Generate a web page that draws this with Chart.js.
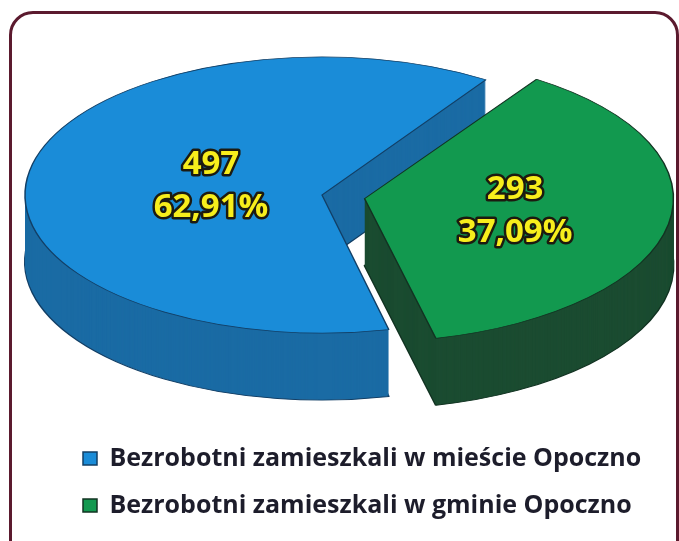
<!DOCTYPE html>
<html>
<head>
<meta charset="utf-8">
<script src="https://cdn.jsdelivr.net/npm/chart.js@4.4.1/dist/chart.umd.min.js"></script>
<style>
html, body { margin: 0; padding: 0; background: #fff; }
#wrap { position: relative; width: 679px; height: 541px; overflow: hidden; }
#frame { position: absolute; left: 9px; top: 11px; width: 664px; height: 580px; border: 3px solid #5b1a2e; border-radius: 24px; }
canvas { position: absolute; left: 0; top: 0; }
</style>
</head>
<body>
<div id="wrap">
  <div id="frame"></div>
  <canvas id="pie" width="679" height="541"></canvas>
</div>
<script>
const labels = ['Bezrobotni zamieszkali w mieście Opoczno', 'Bezrobotni zamieszkali w gminie Opoczno'];
const counts = [497, 293];

const topColors = ['#1a8cd8', '#12994f'];
const sideColors = ['#1a6ba4', '#1b4c31'];
const edgeColors = ['#123f66', '#123322'];

const total = counts.reduce((a, b) => a + b, 0);
const percentText = v => (v / total * 100).toFixed(2).replace('.', ',') + '%';

// fake 3D: squash the pie vertically and stack darker copies under it
const tiltPlugin = {
    id: 'tilt',
    beforeDatasetsDraw(chart, args, opts) {
        const ctx = chart.ctx;
        const meta = chart.getDatasetMeta(0);
        const area = chart.chartArea;
        const cx = (area.left + area.right) / 2;
        const cy = (area.top + area.bottom) / 2;
        const squash = () => {
            ctx.translate(opts.centerX - cx, opts.centerY);
            ctx.scale(1, opts.tilt);
            ctx.translate(0, -cy);
        };
        for (let d = opts.depth; d >= 1; d--) {
            ctx.save();
            ctx.translate(0, d);
            squash();
            meta.data.forEach((arc, i) => {
                const saved = arc.options;
                arc.options = Object.assign({}, saved, {
                    backgroundColor: opts.sideColors[i],
                    borderColor: edgeColors[i],
                    borderWidth: d === opts.depth ? 2 : 0
                });
                arc.draw(ctx);
                arc.options = saved;
            });
            ctx.restore();
        }
        ctx.save();
        squash();
    },
    afterDatasetsDraw(chart, args, opts) {
        const ctx = chart.ctx;
        ctx.restore();

        const meta = chart.getDatasetMeta(0);
        const area = chart.chartArea;
        const cx = (area.left + area.right) / 2;
        const cy = (area.top + area.bottom) / 2;
        ctx.save();
        ctx.font = 'bold 33px "Open Sans"';
        ctx.textAlign = 'center';
        ctx.textBaseline = 'middle';
        ctx.lineJoin = 'round';
        meta.data.forEach((arc, i) => {
            const mid = (arc.startAngle + arc.endAngle) / 2;
            const off = (arc.options.offset || 0) / 4 * (2 - Math.sin(Math.min(Math.PI, arc.circumference)));
            const r = arc.outerRadius * opts.labelRadius[i] + off;
            const x = opts.centerX + (arc.x - cx) + Math.cos(mid) * r;
            const y = opts.centerY + (arc.y + Math.sin(mid) * r - cy) * opts.tilt;
            const lines = [String(counts[i]), percentText(counts[i])];
            lines.forEach((t, j) => {
                const ly = y + (j - 0.5) * 43;
                ctx.strokeStyle = '#1c1a10';
                ctx.lineWidth = 5;
                ctx.strokeText(t, x, ly);
                ctx.fillStyle = '#f7ee1c';
                ctx.fillText(t, x, ly);
            });
        });
        ctx.restore();
    }
};

new Chart(document.getElementById('pie'), {
    type: 'pie',
    data: {
        labels,
        datasets: [{
            data: counts,
            backgroundColor: topColors,
            borderColor: edgeColors,
            borderWidth: 1.5,
            offset: [0, 173]
        }]
    },
    options: {
        responsive: false,
        animation: false,
        rotation: 167,
        radius: 297,
        layout: {
            padding: { left: 61, right: 0, top: 0, bottom: 13 }
        },
        plugins: {
            legend: {
                position: 'bottom',
                align: 'start',
                labels: {
                    boxWidth: 14,
                    boxHeight: 13,
                    padding: 22,
                    color: '#1d1d2b',
                    font: { family: '"Open Sans"', size: 25, weight: 'bold' }
                }
            },
            tooltip: { enabled: false },
            tilt: {
                tilt: 0.465,
                depth: 67,
                centerX: 322,
                centerY: 195,
                sideColors,
                labelRadius: [0.38, 0.475]
            }
        }
    },
    plugins: [tiltPlugin]
});
</script>
</body>
</html>
